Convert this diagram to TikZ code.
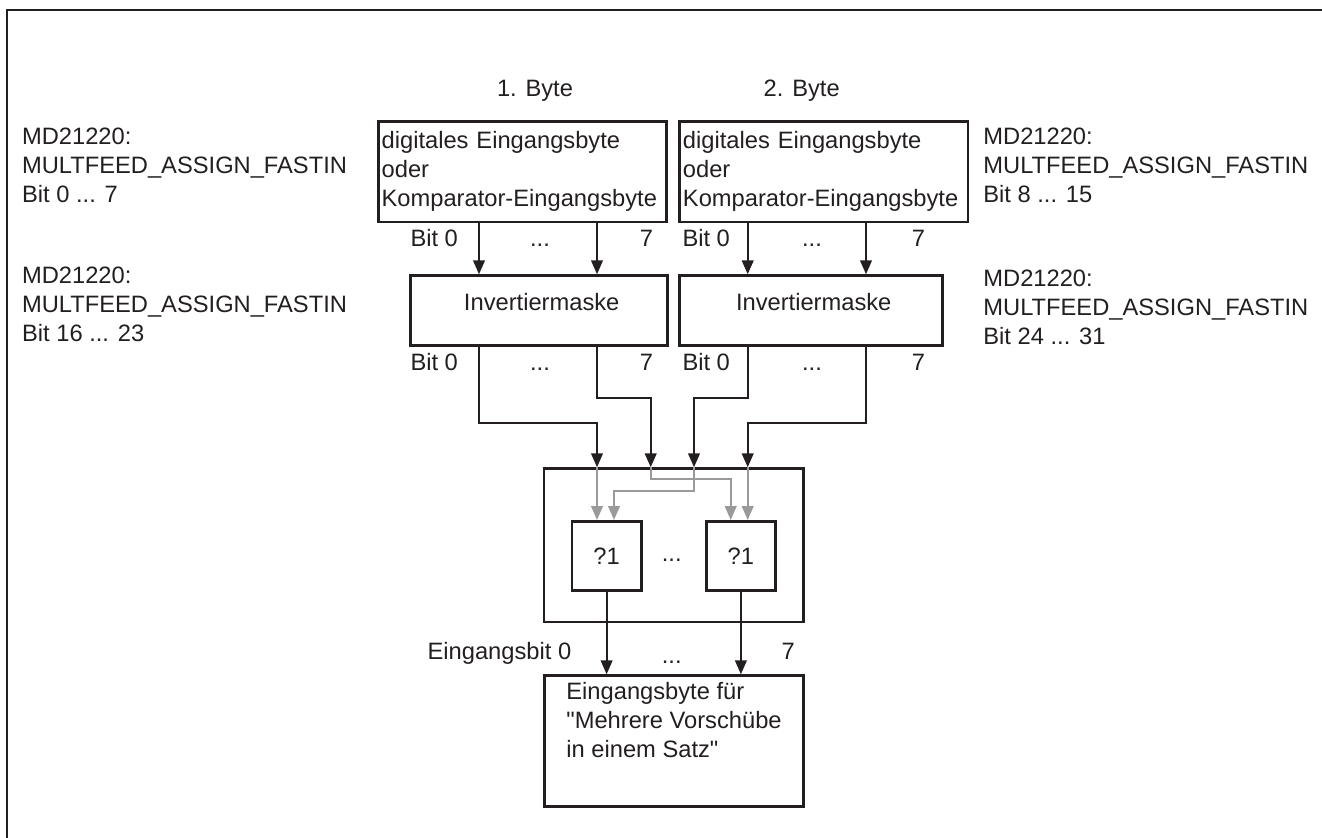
\documentclass[tikz,border=0pt]{standalone}
\usepackage{fontspec}
\setmainfont{Liberation Sans}
\usetikzlibrary{arrows.meta}
\definecolor{sieblack}{HTML}{231F20}
\definecolor{siegray}{HTML}{9A9A9A}

\begin{document}
\begin{tikzpicture}[x=0.5pt,y=-0.5pt,
  font=\fontsize{11.85pt}{14.5pt}\selectfont, text=sieblack,
  box/.style={draw=sieblack, line width=1.25pt, inner sep=0pt},
  lbl/.style={inner sep=0pt, align=left},
  wire/.style={draw=sieblack, line width=1.1pt, -{Triangle[length=7pt,width=5.8pt]}},
  graywire/.style={draw=siegray, line width=1.1pt, -{Triangle[length=7pt,width=5.8pt]}}]
  \useasboundingbox (0,0) rectangle (1322,837);
  \draw[sieblack, line width=1pt] (7.3,850) |- (1330,10);

  \node[lbl, anchor=north west] (mdl1) at (21.7,128) {MD21220:\\MULTFEED\_ASSIGN\_FASTIN\\Bit 0 ... 7};
  \node[lbl, anchor=north west] (mdl2) at (21.7,266.3) {MD21220:\\MULTFEED\_ASSIGN\_FASTIN\\Bit 16 ... 23};
  \node[lbl, anchor=north west] (mdr1) at (983,128) {MD21220:\\MULTFEED\_ASSIGN\_FASTIN\\Bit 8 ... 15};
  \node[lbl, anchor=north west] (mdr2) at (983,269.3) {MD21220:\\MULTFEED\_ASSIGN\_FASTIN\\Bit 24 ... 31};

  \node[anchor=base] (byte1) at (535,96.7) {1. Byte};
  \node[anchor=base] (byte2) at (801.7,96.7) {2. Byte};
  \node[box, lbl, anchor=north west, inner xsep=1.7pt, text width=140.8pt, minimum height=50.35pt] (in1) at (377,120) {digitales Eingangsbyte\\oder\\Komparator-Eingangsbyte};
  \node[box, lbl, anchor=north west, inner xsep=1.7pt, text width=140.8pt, minimum height=50.35pt] (in2) at (678.3,120) {digitales Eingangsbyte\\oder\\Komparator-Eingangsbyte};

  \node[box, anchor=north west, minimum width=128.35pt, minimum height=34.85pt] (inv1) at (409.3,274.3) {};
  \node[box, anchor=north west, minimum width=131.35pt, minimum height=34.85pt] (inv2) at (678.3,274.3) {};
  \node[anchor=base] (inv1txt) at (541.7,310) {Invertiermaske};
  \node[anchor=base] (inv2txt) at (813.7,310) {Invertiermaske};

  \foreach \dx/\bn in {0/a,272/b}
    \foreach \yy/\rn in {246.7/t,370/u} {
      \node[anchor=base east] (bit0\bn\rn) at (465+\dx,\yy) {Bit 0};
      \node[anchor=base] (dots\bn\rn) at (540+\dx,\yy) {...};
      \node[anchor=base] (seven\bn\rn) at (646.5+\dx,\yy) {7};
    }

  \coordinate (xa) at (479,0);
  \coordinate (xb) at (597,0);
  \coordinate (xc) at (747.7,0);
  \coordinate (xd) at (866,0);
  \coordinate (xe) at (650.7,0);
  \coordinate (xf) at (694,0);
  \coordinate (xg) at (730.7,0);
  \coordinate (xh) at (614,0);
  \coordinate (ylo) at (0,422.7);
  \coordinate (yhi) at (0,397.7);
  \coordinate (ygb) at (0,479.3);
  \coordinate (ygc) at (0,490.7);

  \foreach \src/\dst/\xx in {in1/inv1/xa, in1/inv1/xb, in2/inv2/xc, in2/inv2/xd}
    \draw[wire] (\src.south -| \xx) -- (\dst.north -| \xx);

  \node[box, anchor=north west, minimum width=129.65pt, minimum height=76.7pt] (orbox) at (542.7,467.3) {};
  \node[box, anchor=north west, minimum width=34.65pt, minimum height=34.5pt] (or1) at (570.7,520) {?1};
  \node[box, anchor=north west, minimum width=34.65pt, minimum height=34.5pt] (or2) at (705,520) {?1};
  \node[anchor=base] (ordots) at (671.7,561.7) {...};

  \draw[wire] (inv1.south -| xa) |- (xb |- ylo) -- (orbox.north -| xb);
  \draw[wire] (inv1.south -| xb) |- (xe |- yhi) -- (orbox.north -| xe);
  \draw[wire] (inv2.south -| xc) |- (xf |- yhi) -- (orbox.north -| xf);
  \draw[wire] (inv2.south -| xd) |- (xc |- ylo) -- (orbox.north -| xc);

  \draw[graywire] (orbox.north -| xb) -- (or1.north -| xb);
  \draw[graywire] (orbox.north -| xe) |- (xg |- ygb) -- (or2.north -| xg);
  \draw[graywire] (orbox.north -| xf) |- (xh |- ygc) -- (or1.north -| xh);
  \draw[graywire] (orbox.north -| xc) -- (or2.north -| xc);

  \node[box, anchor=north west, minimum width=129.5pt, minimum height=65.35pt] (outbyte) at (543,674.3) {};
  \node[lbl, anchor=north west] (outtxt) at (566,682) {Eingangsbyte für\\\textquotedbl Mehrere Vorschübe\\in einem Satz\textquotedbl};
  \draw[wire] (or1.south) -- (or1.south |- outbyte.north);
  \draw[wire] (or2.south) -- (or2.south |- outbyte.north);
  \node[anchor=base east] (eb0) at (578.3,659.3) {Eingangsbit 0};
  \node[anchor=base] (ebdots) at (671.7,663) {...};
  \node[anchor=base] (eb7) at (788.3,659.3) {7};
\end{tikzpicture}
\end{document}
